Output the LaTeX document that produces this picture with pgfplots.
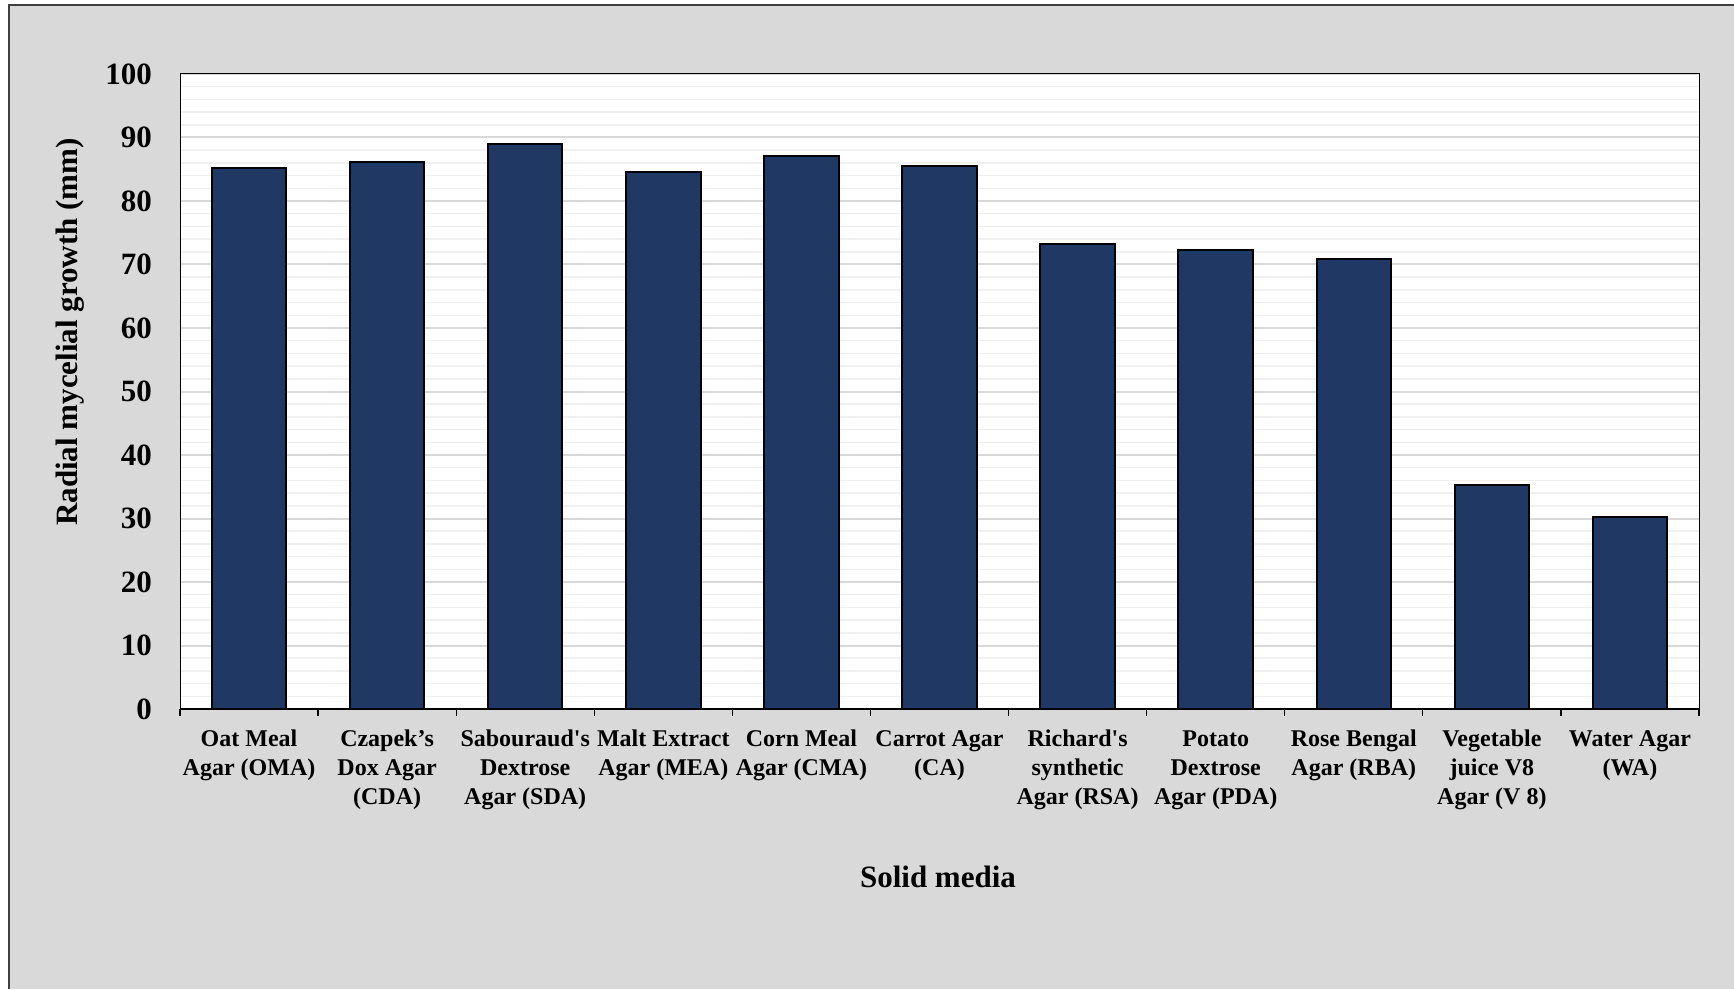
\documentclass[border=0pt]{standalone}
\usepackage{fontspec}
\setmainfont{Liberation Serif}
\usepackage{pgfplots}
\pgfplotsset{compat=1.18}
\definecolor{barblue}{HTML}{1F3864}
\definecolor{bggray}{HTML}{D9D9D9}
\definecolor{framegray}{HTML}{404040}
\definecolor{majgrid}{HTML}{D9D9D9}
\definecolor{mingrid}{HTML}{F0F0F0}
\begin{document}
\begin{tikzpicture}
\useasboundingbox (0,0) rectangle (1734pt,989pt);
\fill[white] (0,0) rectangle (1734pt,989pt);
\fill[bggray] (9pt,0) rectangle (1734pt,983.5pt);
\draw[framegray, line width=2pt] (9pt,0) -- (9pt,983.5pt) -- (1734pt,983.5pt);
\begin{axis}[
  at={(180pt,280pt)}, anchor=south west,
  scale only axis, width=1519pt, height=635pt,
  xmin=-0.5, xmax=10.5, ymin=0, ymax=100,
  axis background/.style={fill=white},
  axis line style={black, line width=1pt},
  ytick={0,10,...,100},
  minor y tick num=4,
  ymajorgrids, yminorgrids,
  major grid style={majgrid, line width=2pt},
  minor grid style={mingrid, line width=1.5pt},
  ytick style={draw=none},
  minor tick length=0pt,
  xtick={-0.5,0.5,...,10.5},
  xtick pos=bottom,
  tick align=outside,
  major tick length=7pt,
  xtick style={black, line width=1.2pt},
  xticklabels={{\strut Oat Meal\\Agar (OMA)},{\strut Czapek’s\\Dox Agar\\(CDA)},{\strut Sabouraud\textquotesingle s\\Dextrose\\Agar (SDA)},{\strut Malt Extract\\Agar (MEA)},{\strut Corn Meal\\Agar (CMA)},{\strut Carrot Agar\\(CA)},{\strut Richard\textquotesingle s\\synthetic\\Agar (RSA)},{\strut Potato\\Dextrose\\Agar (PDA)},{\strut Rose Bengal\\Agar (RBA)},{\strut Vegetable\\juice V8\\Agar (V 8)},{\strut Water Agar\\(WA)},{}},
  xticklabel style={font=\fontsize{24}{29}\selectfont\bfseries, align=center, anchor=north, inner sep=0pt, xshift=69.05pt, yshift=-10pt},
  /pgf/number format/assume math mode=true,
  yticklabel style={font=\fontsize{31}{37}\selectfont\bfseries, anchor=east, inner sep=0pt, xshift=-21pt},
  xlabel={Solid media},
  xlabel style={font=\fontsize{31}{37}\selectfont\bfseries, at={(axis description cs:0.499,-0.2646)}, anchor=center},
  ylabel={Radial mycelial growth (mm)},
  ylabel style={font=\fontsize{31}{37}\selectfont\bfseries, at={(axis description cs:-0.0724,0.5937)}, anchor=center},
  ybar, bar width=74.4pt,
]
\addplot[fill=barblue, draw=black, line width=2pt] coordinates {
(0,85.2) (1,86.1) (2,88.9) (3,84.6) (4,87.1) (5,85.5) (6,73.3) (7,72.3) (8,70.9) (9,35.2) (10,30.3)};
\draw[black, line width=2pt] (rel axis cs:0,0) -- (rel axis cs:1,0);
\end{axis}
\end{tikzpicture}
\end{document}
